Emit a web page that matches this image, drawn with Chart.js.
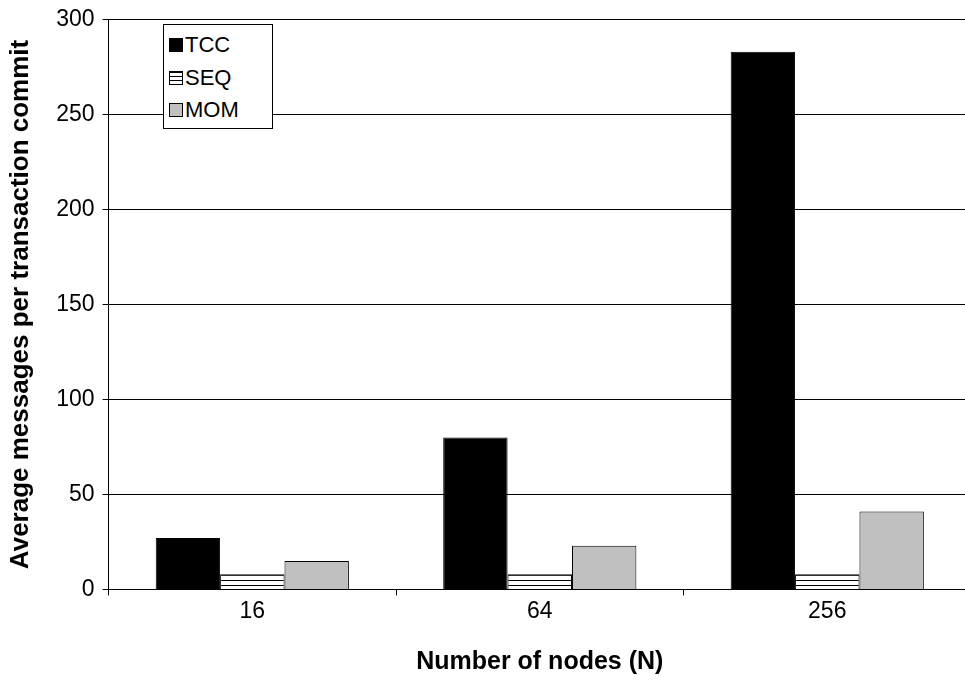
<!DOCTYPE html>
<html>
<head>
<meta charset="utf-8">
<script src="https://cdn.jsdelivr.net/npm/chart.js@4"></script>
<style>
  body { margin: 0; background: #fff; overflow: hidden; }
  #wrap { position: relative; width: 965px; height: 683px; overflow: hidden; }
  #legend {
    position: absolute; left: 163px; top: 24px; width: 110px; height: 105px;
    background: #fff; border: 1px solid #000;
    font-family: "Liberation Sans", Arial, sans-serif; font-size: 22px; color: #000;
    padding: 4px 0 0 5px; box-sizing: border-box;
  }
  #legend div { height: 32.5px; line-height: 32px; display: flex; align-items: center; }
  #legend span.sw { width: 14px; height: 14px; border: 1px solid #000; box-sizing: border-box; margin-right: 2px; }
</style>
</head>
<body>
<div id="wrap">
  <canvas id="c" width="971" height="683"></canvas>
  <div id="legend"></div>
</div>
<script>
const labels = ['16', '64', '256'];
const seriesNames = ['TCC', 'SEQ', 'MOM'];
const tcc = [27, 80, 283];
const seq = [8, 8, 8];
const mom = [15, 23, 41];

// horizontal-stripe fill for SEQ
const pc = document.createElement('canvas');
pc.width = 8; pc.height = 5;
const px = pc.getContext('2d');
px.fillStyle = '#fff'; px.fillRect(0, 0, 8, 5);
px.fillStyle = '#000'; px.fillRect(0, 0, 8, 1);
const stripe = px.createPattern(pc, 'repeat');

const fills = ['#000000', stripe, '#c0c0c0'];
const font = "'Liberation Sans', Arial, sans-serif";

new Chart(document.getElementById('c'), {
  type: 'bar',
  data: {
    labels: labels,
    datasets: [
      { label: seriesNames[0], data: tcc, backgroundColor: fills[0], borderColor: '#000', borderWidth: 1 },
      { label: seriesNames[1], data: seq, backgroundColor: fills[1], borderColor: '#000', borderWidth: 1 },
      { label: seriesNames[2], data: mom, backgroundColor: fills[2], borderColor: '#000', borderWidth: 1 }
    ]
  },
  options: {
    responsive: false,
    animation: false,
    layout: { padding: { top: 0, right: 0, left: 1, bottom: 6 } },
    datasets: { bar: { categoryPercentage: 0.672, barPercentage: 1 } },
    plugins: { legend: { display: false }, tooltip: { enabled: false } },
    scales: {
      x: {
        grid: { display: true, drawOnChartArea: false, offset: true, color: '#000', tickLength: 6 },
        border: { color: '#000', width: 1 },
        ticks: { color: '#000', font: { family: font, size: 23 }, padding: 2 },
        title: { display: true, text: 'Number of nodes (N)', color: '#000', font: { family: font, size: 25, weight: 'bold' }, padding: { top: 20, bottom: 0 } }
      },
      y: {
        min: 0, max: 300,
        grid: { color: '#000', tickLength: 6 },
        border: { color: '#000', width: 1 },
        ticks: { stepSize: 50, color: '#000', font: { family: font, size: 23, lineHeight: 1.0 }, padding: 8 },
        title: { display: true, text: 'Average messages per transaction commit', color: '#000', font: { family: font, size: 26, weight: 'bold' }, padding: { top: 4, bottom: 12 } }
      }
    }
  }
});

// legend box overlay
const lg = document.getElementById('legend');
seriesNames.forEach((n, i) => {
  const row = document.createElement('div');
  const sw = document.createElement('span');
  sw.className = 'sw';
  if (i === 1) {
    sw.style.background = 'repeating-linear-gradient(#000 0 1px, #fff 1px 4px)';
  } else {
    sw.style.background = fills[i];
  }
  row.appendChild(sw);
  row.appendChild(document.createTextNode(n));
  lg.appendChild(row);
});
</script>
</body>
</html>
